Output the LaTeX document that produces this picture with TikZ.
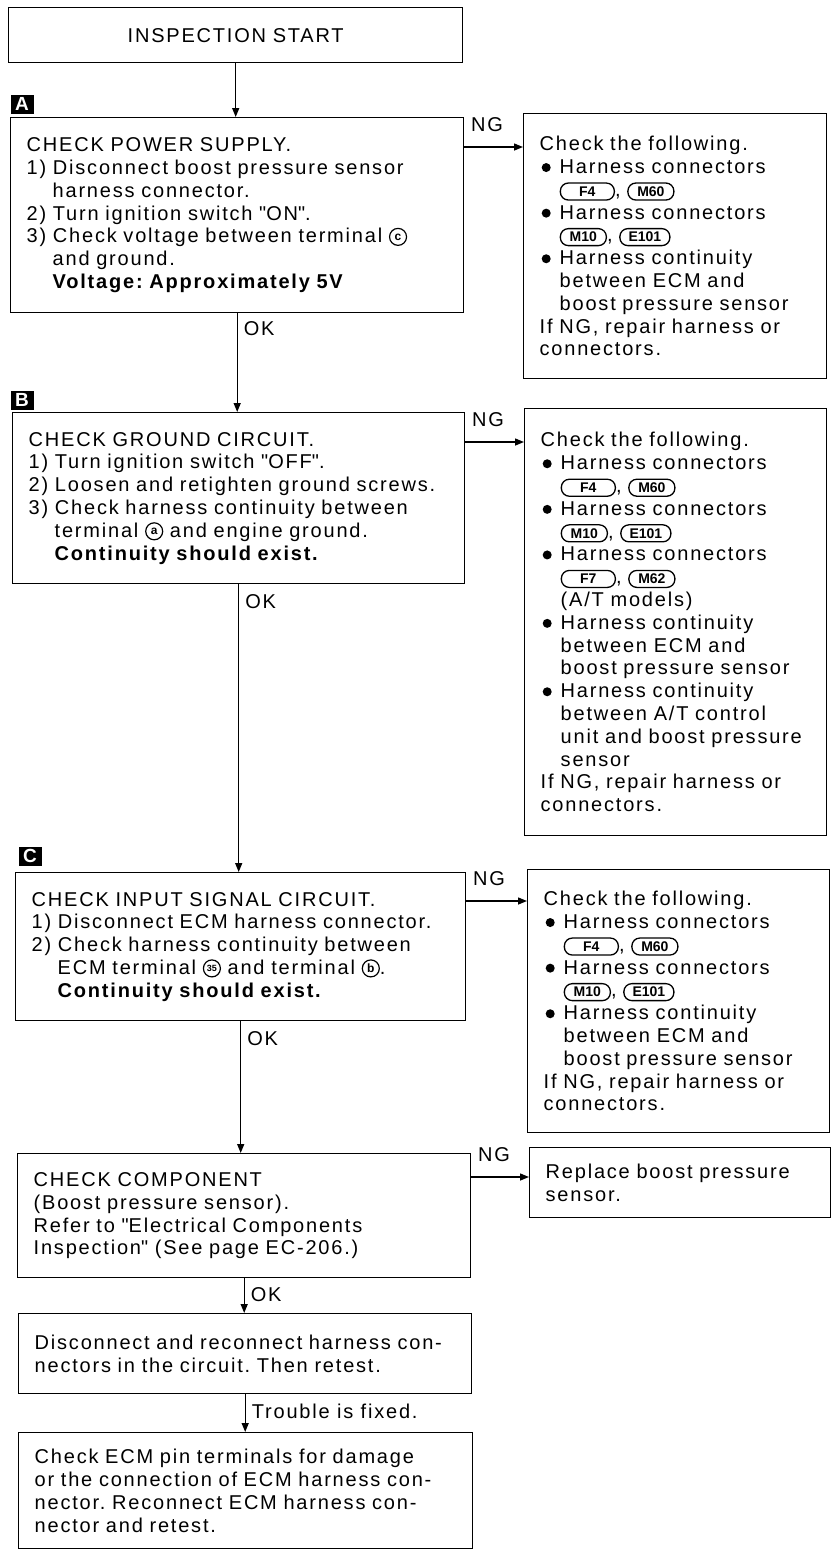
\documentclass[tikz,border=0pt]{standalone}
\usepackage{fontspec}
\setmainfont{Liberation Sans}[LetterSpace=9]
\newfontfamily\badgefont{Liberation Sans}
\usetikzlibrary{arrows.meta,positioning}

\tikzset{
  connbadge/.style={draw, line width=1.3pt, rounded corners=8pt, anchor=center,
                    minimum height=17pt, inner xsep=3pt, inner ysep=1pt,
                    font=\badgefont\bfseries\fontsize{14}{14}\selectfont},
  termring/.style={circle, draw, line width=1.2pt, inner sep=0pt, anchor=center,
                   minimum size=17pt,
                   font=\badgefont\bfseries\fontsize{12}{12}\selectfont},
}
\newcommand{\conn}[2][46pt]{\tikz[baseline=(cb.base)]\node[connbadge, minimum width=#1] (cb) {#2};}
\newcommand{\term}[2][12]{\tikz[baseline=-6pt]\node[termring, font=\badgefont\bfseries\fontsize{#1}{#1}\selectfont] (tc) at (0,0) {#2};}
\newcommand{\qq}{\textquotedbl}
\newcommand{\hangpad}{\hspace*{26pt}}
\newcommand{\dotpad}{\hspace*{20pt}}
\newcommand{\dotitem}{\makebox[20pt][l]{\hspace{2pt}\tikz[baseline=-6pt]\fill (0,0) circle (4.5pt);}}

\begin{document}
\frenchspacing
\begin{tikzpicture}[x=1pt, y=-1pt,
    stepbox/.style={draw, line width=1.4pt, anchor=north west, align=left,
                    inner xsep=16pt, inner ysep=0pt,
                    font=\fontsize{20}{22.8}\selectfont},
    startbox/.style={stepbox, align=center},
    secmark/.style={fill=black, text=white, minimum width=23pt,
                    minimum height=19pt, inner sep=0pt,
                    font=\fontsize{19}{19}\selectfont\bfseries},
    arrow/.style={-{Triangle[length=9pt, width=7pt]}, line width=1.4pt},
    lbl/.style={inner sep=2pt, font=\fontsize{20}{22.8}\selectfont},
  ]
  \useasboundingbox (0,0) rectangle (831,1550);

  % main column
  \node[startbox, minimum height=55pt, text width=422pt] (start) at (8,7) {INSPECTION START};

  \node[secmark] (markA) at (22,104) {A};
  \node[stepbox, minimum height=195pt, text width=421pt] (chkA) at (10,117) {%
    CHECK POWER SUPPLY.\\
    1) Disconnect boost pressure sensor\\
    \hangpad harness connector.\\
    2) Turn ignition switch \qq ON\qq.\\
    3) Check voltage between terminal \term{c}\\
    \hangpad and ground.\\
    \hangpad\textbf{Voltage: Approximately 5V}};

  \node[secmark] (markB) at (22,400) {B};
  \node[stepbox, minimum height=171pt, text width=420pt] (chkB) at (12,412) {%
    CHECK GROUND CIRCUIT.\\
    1) Turn ignition switch \qq OFF\qq.\\
    2) Loosen and retighten ground screws.\\
    3) Check harness continuity between\\
    \hangpad terminal \term{a} and engine ground.\\
    \hangpad\textbf{Continuity should exist.}};

  \node[secmark] (markC) at (30,856) {C};
  \node[stepbox, minimum height=148pt, text width=418pt] (chkC) at (15,872) {%
    CHECK INPUT SIGNAL CIRCUIT.\\
    1) Disconnect ECM harness connector.\\
    2) Check harness continuity between\\
    \hangpad ECM terminal \term[9]{35} and terminal \term{b}.\\
    \hangpad\textbf{Continuity should exist.}};

  \node[stepbox, minimum height=124pt, text width=421pt] (comp) at (17,1153) {%
    CHECK COMPONENT\\
    (Boost pressure sensor).\\
    Refer to \qq Electrical Components\\
    Inspection\qq\ (See page EC-206.)};

  \node[stepbox, minimum height=80pt, text width=421pt] (recon) at (18,1313) {%
    Disconnect and reconnect harness con-\\
    nectors in the circuit. Then retest.};

  \node[stepbox, minimum height=116pt, text width=422pt] (pins) at (18,1432) {%
    Check ECM pin terminals for damage\\
    or the connection of ECM harness con-\\
    nector. Reconnect ECM harness con-\\
    nector and retest.};

  % NG column
  \node[stepbox, minimum height=265pt, text width=271pt] (ngA) at (523,113) {%
    Check the following.\\
    \dotitem Harness connectors\\
    \dotpad\conn[54pt]{F4}, \conn{M60}\\
    \dotitem Harness connectors\\
    \dotpad\conn{M10}, \conn[50pt]{E101}\\
    \dotitem Harness continuity\\
    \dotpad between ECM and\\
    \dotpad boost pressure sensor\\
    If NG, repair harness or\\
    connectors.};

  \node[stepbox, minimum height=427pt, text width=270pt] (ngB) at (524,408) {%
    Check the following.\\
    \dotitem Harness connectors\\
    \dotpad\conn[54pt]{F4}, \conn{M60}\\
    \dotitem Harness connectors\\
    \dotpad\conn{M10}, \conn[50pt]{E101}\\
    \dotitem Harness connectors\\
    \dotpad\conn[54pt]{F7}, \conn{M62}\\
    \dotpad (A/T models)\\
    \dotitem Harness continuity\\
    \dotpad between ECM and\\
    \dotpad boost pressure sensor\\
    \dotitem Harness continuity\\
    \dotpad between A/T control\\
    \dotpad unit and boost pressure\\
    \dotpad sensor\\
    If NG, repair harness or\\
    connectors.};

  \node[stepbox, minimum height=263pt, text width=270pt] (ngC) at (527,869) {%
    Check the following.\\
    \dotitem Harness connectors\\
    \dotpad\conn[54pt]{F4}, \conn{M60}\\
    \dotitem Harness connectors\\
    \dotpad\conn{M10}, \conn[50pt]{E101}\\
    \dotitem Harness continuity\\
    \dotpad between ECM and\\
    \dotpad boost pressure sensor\\
    If NG, repair harness or\\
    connectors.};

  \node[stepbox, minimum height=70pt, text width=269pt] (ngD) at (529,1147) {%
    Replace boost pressure\\
    sensor.};

  % OK flow
  \draw[arrow] (start.south) -- (start.south |- chkA.north);
  \draw[arrow] (chkA.south) -- (chkA.south |- chkB.north)
    node[lbl, pos=0.15, right=4pt] (okA) {OK};
  \draw[arrow] (chkB.south) -- (chkB.south |- chkC.north)
    node[lbl, pos=0.06, right=4pt] (okB) {OK};
  \draw[arrow] (chkC.south) -- (chkC.south |- comp.north)
    node[lbl, pos=0.13, right=4pt] (okC) {OK};
  \draw[arrow] (comp.south) -- (comp.south |- recon.north)
    node[lbl, pos=0.46, right=4pt] (okD) {OK};
  \draw[arrow] (recon.south) -- (recon.south |- pins.north)
    node[lbl, pos=0.44, right=4pt] (fixed) {Trouble is fixed.};

  % NG flow
  \draw[arrow] ([yshift=-30pt]chkA.north east) -- ([yshift=-34pt]ngA.north west)
    node[lbl, pos=0, anchor=south west, xshift=4pt, yshift=13pt] (ngtA) {NG};
  \draw[arrow] ([yshift=-30pt]chkB.north east) -- ([yshift=-34pt]ngB.north west)
    node[lbl, pos=0, anchor=south west, xshift=4pt, yshift=13pt] (ngtB) {NG};
  \draw[arrow] ([yshift=-29pt]chkC.north east) -- ([yshift=-32pt]ngC.north west)
    node[lbl, pos=0, anchor=south west, xshift=4pt, yshift=13pt] (ngtC) {NG};
  \draw[arrow] ([yshift=-24pt]comp.north east) -- ([yshift=-30pt]ngD.north west)
    node[lbl, pos=0, anchor=south west, xshift=4pt, yshift=13pt] (ngtD) {NG};
\end{tikzpicture}
\end{document}
